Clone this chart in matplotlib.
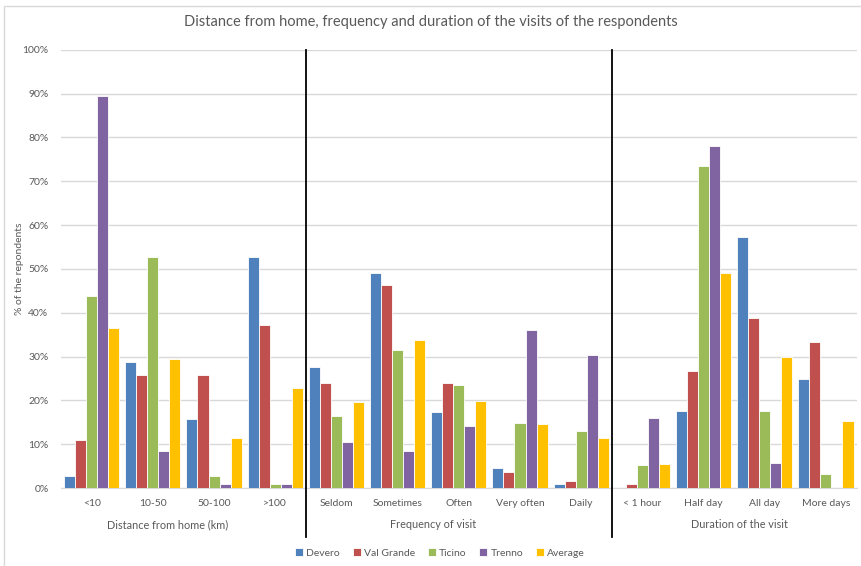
import numpy as np
import matplotlib
matplotlib.use('Agg')
import matplotlib.pyplot as plt
from matplotlib.patches import Rectangle
from matplotlib.ticker import PercentFormatter

plt.rcParams['font.family'] = ['Lato', 'DejaVu Sans']

# categories (three blocks)
categories = ['<10', '10-50', '50-100', '>100',
              'Seldom', 'Sometimes', 'Often', 'Very often', 'Daily',
              '< 1 hour', 'Half day', 'All day', 'More days']
groups = ['Distance from home (km)', 'Frequency of visit', 'Duration of the visit']

# values in %
devero     = [2.7, 28.7, 15.7, 52.8, 27.7, 49.1, 17.4, 4.5, 0.9, 0.0, 17.5, 57.3, 24.9]
val_grande = [11.0, 25.8, 25.8, 37.1, 24.0, 46.3, 24.0, 3.6, 1.7, 0.8, 26.8, 38.9, 33.3]
ticino     = [43.8, 52.6, 2.7, 0.8, 16.5, 31.4, 23.5, 14.8, 13.0, 5.2, 73.5, 17.5, 3.3]
trenno     = [89.4, 8.4, 1.0, 1.0, 10.4, 8.5, 14.2, 36.1, 30.4, 16.0, 78.0, 5.7, 0.0]
average    = [36.5, 29.4, 11.3, 22.8, 19.6, 33.8, 19.8, 14.7, 11.5, 5.5, 49.1, 29.9, 15.4]

series = {'Devero': devero, 'Val Grande': val_grande, 'Ticino': ticino,
          'Trenno': trenno, 'Average': average}
colors = ['#4F81BD', '#C0504D', '#9BBB59', '#8064A2', '#FFC000']

txt = '#595959'
fig = plt.figure(figsize=(8.62, 5.66), dpi=100)
ax = fig.add_axes([0.0708, 0.1378, 0.9229, 0.7744])

x = np.arange(len(categories))
step = 0.18
for i, (name, vals) in enumerate(series.items()):
    ax.bar(x + (i - 2) * step, vals, width=step, color=colors[i],
           edgecolor='white', linewidth=0.6, label=name, zorder=3)

ax.set_xlim(-0.5, len(categories) - 0.5)
ax.set_ylim(0, 100)
ax.set_yticks(np.arange(0, 101, 10))
ax.yaxis.set_major_formatter(PercentFormatter(decimals=0))
ax.grid(axis='y', color='#D9D9D9', linewidth=1, zorder=0)
for s in ['top', 'right', 'left']:
    ax.spines[s].set_visible(False)
ax.spines['bottom'].set_color('#D9D9D9')
ax.set_xticks(x)
ax.set_xticklabels(categories)
ax.tick_params(axis='both', length=0, labelsize=7.5, labelcolor=txt)
ax.tick_params(axis='x', pad=8)
ax.tick_params(axis='y', pad=9)
ax.set_ylabel('% of the repondents', fontsize=7.5, color=txt)
ax.yaxis.set_label_coords(-0.047, 0.5)

# separators between blocks
for xs in [3.5, 8.5]:
    ax.plot([xs, xs], [100, -11.2], color='black', linewidth=1.3,
            clip_on=False, zorder=4)

# block titles
for gx, g in zip([1.245, 5.585, 10.58], groups):
    ax.text(gx, -8.3, g, ha='center', va='center', fontsize=7.8, color=txt)

fig.text(0.5, 0.961, 'Distance from home, frequency and duration of the visits of the respondents',
         ha='center', va='center', fontsize=10.5, color=txt)

fig.legend(loc='center', bbox_to_anchor=(440 / 862, 1 - 553 / 566), ncol=5,
           frameon=False, fontsize=7.5, handlelength=0.8, handleheight=0.8,
           handletextpad=0.3, columnspacing=1.2, labelcolor=txt)

fig.patches.append(Rectangle((4.5 / 862, -0.01), 1.0, 1 - 5.5 / 566 + 0.01,
                             transform=fig.transFigure, fill=False,
                             edgecolor='#D9D9D9', linewidth=1))

fig.savefig('out.png', dpi=100)
